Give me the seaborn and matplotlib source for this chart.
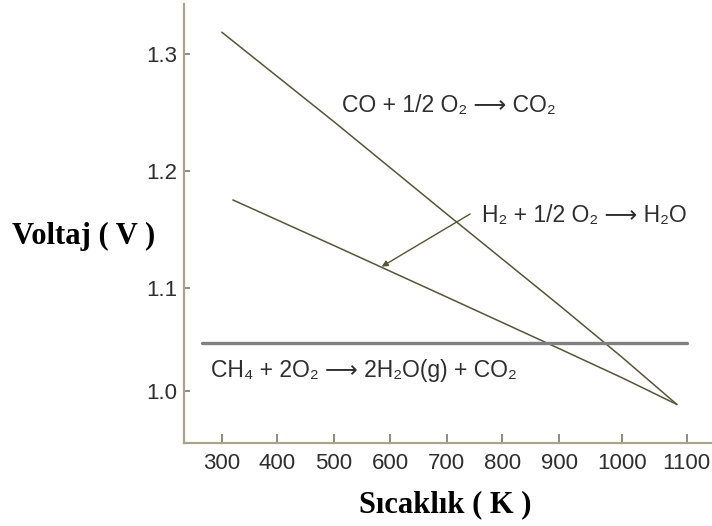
import numpy as np
import pandas as pd
import matplotlib
matplotlib.use("Agg")
import matplotlib.pyplot as plt
import seaborn as sns

# ---------------- data ----------------
CO_T = [300, 500, 700, 900, 1000, 1085]
CO_V = [1.319, 1.242, 1.163, 1.083, 1.033, 0.987]

H2_T = [320, 500, 700, 900, 1000, 1085]
H2_V = [1.175, 1.136, 1.091, 1.041, 1.013, 0.987]

CH4_T = [265, 1100]
CH4_V = [1.0465, 1.0465]

X_TICKS = [300, 400, 500, 600, 700, 800, 900, 1000, 1100]
Y_TICKS = [1.0, 1.1, 1.2, 1.3]
X_LIM = [232, 1139]
Y_LIM = [0.9497, 1.3432]

# irregular tick spacing of the original drawing (relative axis units)
X_TICK_SPACING = [221.7, 277.3, 334.0, 390.0, 446.7, 502.3, 559.3, 621.7, 686.7]
Y_TICK_SPACING = [-391.0, -287.7, -170.7, -54.3]

LABEL_CO = "CO + 1/2 O\u2082 \u27f6 CO\u2082"
LABEL_H2 = "H\u2082 + 1/2 O\u2082 \u27f6 H\u2082O"
LABEL_CH4 = "CH\u2084 + 2O\u2082 \u27f6 2H\u2082O(g) + CO\u2082"
LABEL_POS_CO = [514, 1.2564]
LABEL_POS_H2 = [763, 1.162]
LABEL_POS_CH4 = [281, 1.020]
ARROW_FROM = [742, 1.163]
ARROW_TO = [585, 1.118]

X_LABEL = "Sıcaklık ( K )"
Y_LABEL = "Voltaj ( V )"

# ---------------- styling ----------------
sns.set_theme(style="white")
plt.rcParams["font.family"] = ["Liberation Sans", "DejaVu Sans"]

LINE_C = "#55553a"
HLINE_C = "#808080"
SPINE_C = "#a8a48c"
TEXT_C = "#2e2e2e"


def piecewise(vals, pos):
    vals = np.asarray(vals, float)
    pos = np.asarray(pos, float)

    def mk(a, b):
        def f(v):
            v = np.asarray(v, float)
            out = np.interp(v, a, b)
            lo_s = (b[1] - b[0]) / (a[1] - a[0])
            hi_s = (b[-1] - b[-2]) / (a[-1] - a[-2])
            out = np.where(v < a[0], b[0] + (v - a[0]) * lo_s, out)
            out = np.where(v > a[-1], b[-1] + (v - a[-1]) * hi_s, out)
            return out
        return f

    return mk(vals, pos), mk(pos, vals)


fig = plt.figure(figsize=(7.12, 5.26), dpi=100)
ax = fig.add_axes([184 / 712, 83 / 526, 528 / 712, 439 / 526])

ax.set_xscale("function", functions=piecewise(X_TICKS, X_TICK_SPACING))
ax.set_yscale("function", functions=piecewise(Y_TICKS, Y_TICK_SPACING))

df_co = pd.DataFrame({"T": CO_T, "V": CO_V})
df_h2 = pd.DataFrame({"T": H2_T, "V": H2_V})
df_ch4 = pd.DataFrame({"T": CH4_T, "V": CH4_V})

sns.lineplot(data=df_co, x="T", y="V", ax=ax, color=LINE_C, lw=1.1,
             estimator=None, sort=False)
sns.lineplot(data=df_h2, x="T", y="V", ax=ax, color=LINE_C, lw=1.1,
             estimator=None, sort=False)
sns.lineplot(data=df_ch4, x="T", y="V", ax=ax, color=HLINE_C, lw=2.4,
             estimator=None, sort=False)

ax.annotate("", xy=ARROW_TO, xytext=ARROW_FROM,
            arrowprops=dict(arrowstyle="-|>", color=LINE_C, lw=1.0,
                            mutation_scale=9, shrinkA=0, shrinkB=0))

for lab, pos in [(LABEL_CO, LABEL_POS_CO), (LABEL_H2, LABEL_POS_H2),
                 (LABEL_CH4, LABEL_POS_CH4)]:
    ax.text(pos[0], pos[1], lab, ha="left", va="center", fontsize=16.5,
            color=TEXT_C, family=["Liberation Sans", "DejaVu Sans"])

ax.set_xlim(X_LIM)
ax.set_ylim(Y_LIM)
ax.set_xticks(X_TICKS)
ax.set_xticklabels([str(t) for t in X_TICKS])
ax.set_yticks(Y_TICKS)
ax.set_yticklabels([f"{t:.1f}" for t in Y_TICKS])
ax.minorticks_off()

for s in ["top", "right"]:
    ax.spines[s].set_visible(False)
for s in ["left", "bottom"]:
    ax.spines[s].set_color(SPINE_C)
    ax.spines[s].set_linewidth(1.6)

ax.tick_params(axis="x", direction="in", length=6.5, width=1.2, color="#7a7a6a",
               labelsize=16, labelcolor=TEXT_C, pad=7, bottom=True)
ax.tick_params(axis="y", direction="in", length=4.5, width=1.2, color="#7a7a6a",
               labelsize=16, labelcolor=TEXT_C, pad=5, left=True)

ax.set_xlabel(X_LABEL, family="Liberation Serif", fontweight="bold", fontsize=22,
              color="black", va="center", ha="center")
ax.set_ylabel(Y_LABEL, family="Liberation Serif", fontweight="bold", fontsize=22,
              color="black", rotation=0, ha="center", va="center")
ax.xaxis.set_label_coords((445 - 184) / 528, (443 - 505) / 439)
ax.yaxis.set_label_coords((84 - 184) / 528, (443 - 236) / 439)

ax.set_facecolor("white")
fig.patch.set_facecolor("white")
fig.savefig("out.png", dpi=100, facecolor="white")
